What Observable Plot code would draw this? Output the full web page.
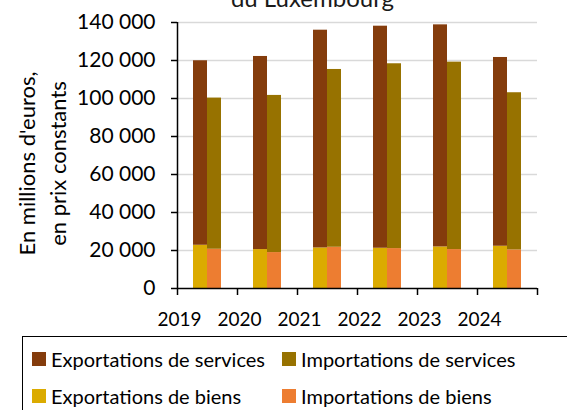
<!DOCTYPE html>
<html>
<head>
<meta charset="utf-8">
<script src="https://cdn.jsdelivr.net/npm/d3@7"></script>
<script src="https://cdn.jsdelivr.net/npm/@observablehq/plot@0.6"></script>
<style>
  body { margin: 0; width: 567px; height: 410px; overflow: hidden; background: #fff; font-family: Lato, sans-serif; color: #000; }
  #wrap { position: relative; width: 567px; height: 410px; overflow: hidden; }
  #title { position: absolute; left: 0; top: -14px; width: 625px; text-align: center; font-size: 24px; line-height: 24px; color: #1a1a1a; }
  #chart { position: absolute; left: 0; top: 0; }
  #legend { position: absolute; left: 22px; top: 336px; width: 600px; height: 100px; border: 1px solid #000; box-sizing: border-box;
            display: grid; grid-template-columns: 250px 300px; grid-auto-rows: 37px; padding-top: 3px; padding-left: 9px; }
  .item { display: flex; align-items: center; font-size: 20px; white-space: nowrap; }
  .sw { width: 14px; height: 14px; margin-right: 5px; flex: none; }
</style>
</head>
<body>
<div id="wrap">
  <div id="chart"></div>
  <div id="title">du Luxembourg</div>
  <div id="legend"></div>
</div>
<script>
const years = ["2019", "2020", "2021", "2022", "2023", "2024"];
const exportsGoods    = [22760, 20490, 21350, 21190, 21890, 22240];
const exportsServices = [97100, 101630, 114600, 116870, 116870, 99350];
const importsGoods    = [20660, 18910, 21710, 21010, 20490, 20300];
const importsServices = [79560, 82710, 93570, 97270, 98650, 82730];
const yTicks = [0, 20000, 40000, 60000, 80000, 100000, 120000, 140000];

const seriesNames = ["Exportations de services", "Importations de services", "Exportations de biens", "Importations de biens"];
const seriesColors = ["#843c0c", "#977200", "#dbab00", "#ed7d31"];

const exportRows = years.flatMap((y, i) => [
  {year: y, series: "Exportations de biens", value: exportsGoods[i]},
  {year: y, series: "Exportations de services", value: exportsServices[i]}
]);
const importRows = years.flatMap((y, i) => [
  {year: y, series: "Importations de biens", value: importsGoods[i]},
  {year: y, series: "Importations de services", value: importsServices[i]}
]);

const W = 567, H = 336, mL = 177, mR = 30, mT = 22, mB = 48;
const half = (W - mL - mR) / years.length / 2;
const fmt = d => d3.format(",")(d).replace(/,/g, "\u00a0");

const chart = Plot.plot({
  width: W, height: H,
  marginLeft: mL, marginRight: mR, marginTop: mT, marginBottom: mB,
  style: {fontFamily: "Lato, sans-serif", fontSize: "20px", color: "#000", background: "transparent"},
  x: {domain: years, paddingInner: 0, paddingOuter: 0},
  y: {domain: [0, 140000]},
  color: {domain: seriesNames, range: seriesColors},
  marks: [
    Plot.ruleY(yTicks.slice(1), {stroke: "#d9d9d9", strokeWidth: 1.5}),
    Plot.barY(exportRows, {x: "year", y: "value", fill: "series", insetLeft: 16, insetRight: 30}),
    Plot.barY(importRows, {x: "year", y: "value", fill: "series", insetLeft: 30, insetRight: 16}),
    Plot.ruleY([0], {stroke: "#000", strokeWidth: 1.5}),
    Plot.ruleX([years[0]], {dx: -half, stroke: "#000", strokeWidth: 1.5}),
    Plot.ruleX(years, {dx: -half, y1: 0, insetBottom: -7, stroke: "#000", strokeWidth: 1.5}),
    Plot.ruleX([years[years.length - 1]], {dx: half, y1: 0, insetBottom: -7, stroke: "#000", strokeWidth: 1.5}),
    Plot.axisY(yTicks, {tickSize: 6, tickPadding: 16, tickFormat: fmt, fontSize: 21, label: null, strokeWidth: 1.5}),
    Plot.axisX({tickSize: 0, tickPadding: 24, dx: -28, fontSize: 19, label: null}),
    Plot.text(["En millions d'euros,\nen prix constants"], {frameAnchor: "left", textAnchor: "middle", rotate: -90, dx: -137, dy: 8, lineHeight: 1.4, fontSize: 22})
  ]
});
document.getElementById("chart").appendChild(chart);

const legend = document.getElementById("legend");
seriesNames.forEach((name, i) => {
  const it = document.createElement("div");
  it.className = "item";
  const sw = document.createElement("span");
  sw.className = "sw";
  sw.style.background = seriesColors[i];
  it.appendChild(sw);
  it.appendChild(document.createTextNode(name));
  legend.appendChild(it);
});
</script>
</body>
</html>
